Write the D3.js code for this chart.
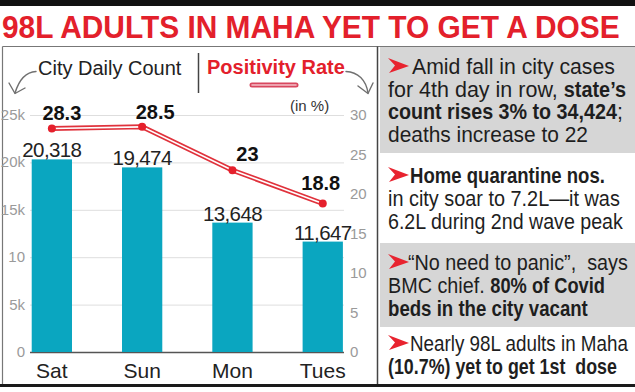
<!DOCTYPE html>
<html><head><meta charset="utf-8">
<script src="https://cdn.jsdelivr.net/npm/d3@7"></script>
<style>
body{margin:0;background:#fff}
svg{display:block}
text{font-family:"Liberation Sans",Arial,Helvetica,sans-serif}
</style>
</head><body>
<svg id="c" width="635" height="392"></svg>
<script>
// ---------- data ----------
const days = ["Sat", "Sun", "Mon", "Tues"];
const dailyCount = [20318, 19474, 13648, 11647];
const positivity = [28.3, 28.5, 23, 18.8];
const leftTicks = [0, 5000, 10000, 15000, 20000, 25000];
const leftTickLabels = ["0", "5k", "10", "15k", "20k", "25k"];
const rightTicks = [0, 5, 10, 15, 20, 25, 30];
const title = "98L ADULTS IN MAHA YET TO GET A DOSE";
const legendCount = "City Daily Count";
const legendRate = "Positivity Rate";
const unitLabel = "(in %)";
// notes: blocks of lines, each line = segments [text, bold]
const notes = [
  [[["Amid fall in city cases", 0]],
   [["for 4th day in row, ", 0], ["state\u2019s", 1]],
   [["count rises 3% to 34,424", 1], [";", 0]],
   [["deaths increase to 22", 0]]],
  [[["Home quarantine nos.", 1]],
   [["in city soar to 7.2L\u2014it was", 0]],
   [["6.2L during 2nd wave peak", 0]]],
  [[["\u201CNo need to panic\u201D,  says", 0]],
   [["BMC chief. ", 0], ["80% of Covid", 1]],
   [["beds in the city vacant", 1]]],
  [[["Nearly 98L adults in Maha", 0]],
   [["(10.7%) yet to get 1st  dose", 1]]]
];

// ---------- layout ----------
const svg = d3.select("#c");
const RED = "#e3202b", TEAL = "#0aa6c0", DARK = "#222";
const y0 = 352, yTop = 115;
const yL = d3.scaleLinear().domain([0, 25000]).range([y0, yTop]);
const yR = d3.scaleLinear().domain([0, 30]).range([y0, yTop]);
const x = d3.scaleBand().domain(days).range([6.7, 367.9]).paddingInner(0.554).paddingOuter(0.277);
const cx = d => x(d) + x.bandwidth() / 2;
const posLabelOffset = [[10, -8], [13, -8], [15, -9], [-2, -13]];
const blockBg = [
  {y: 47, h: 106, fill: "#d6d6d6"},
  {y: 155, h: 87, fill: "#fff"},
  {y: 243, h: 84, fill: "#d6d6d6"},
  {y: 328, h: 56, fill: "#fff"}
];
const blockLines = [[74, 96.5, 119, 141.5], [183, 206, 229], [270, 293, 316], [351, 374]];
const lineEnds = [[615, 626, 623, 588], [605, 620, 623], [628, 605, 588], [628, 617]];
const firstX = [412, 410, 408, 410];

// top bar + title
svg.append("rect").attr("x", 0).attr("y", 0).attr("width", 635).attr("height", 6).attr("fill", "#111");
const titleEl = svg.append("text").attr("font-size", 29.5).attr("font-weight", "bold")
  .attr("fill", RED).text(title);
const tw = titleEl.node().getComputedTextLength();
titleEl.attr("transform", `translate(2,38) scale(${618 / tw},1.09)`);

// right panel backgrounds
svg.selectAll("rect.bg").data(blockBg).enter().append("rect").attr("class", "bg")
  .attr("x", 380).attr("y", d => d.y).attr("width", 255).attr("height", d => d.h).attr("fill", d => d.fill);

// frame
svg.append("line").attr("x1", 2.5).attr("x2", 635).attr("y1", 46.5).attr("y2", 46.5).attr("stroke", "#777").attr("stroke-width", 1.2);
svg.append("line").attr("x1", 2.5).attr("x2", 2.5).attr("y1", 46.5).attr("y2", 385).attr("stroke", "#777").attr("stroke-width", 1.2);
svg.append("line").attr("x1", 377.5).attr("x2", 377.5).attr("y1", 46.5).attr("y2", 385).attr("stroke", "#444").attr("stroke-width", 1.5);
svg.append("rect").attr("x", 0).attr("y", 384).attr("width", 635).attr("height", 3).attr("fill", "#1a1a1a");

// grid
svg.selectAll("line.grid").data(leftTicks).enter().append("line").attr("class", "grid")
  .attr("x1", 30).attr("x2", 344).attr("y1", d => yL(d) + 0.5).attr("y2", d => yL(d) + 0.5)
  .attr("stroke", d => d === 0 ? "#555" : "#dedede").attr("stroke-width", d => d === 0 ? 1.5 : 1);

// left axis labels
svg.selectAll("text.lt").data(leftTicks).enter().append("text").attr("class", "lt")
  .attr("x", 25).attr("y", d => yL(d) + 5).attr("text-anchor", "end")
  .attr("font-size", 15).attr("fill", "#9a9a9a").text((d, i) => leftTickLabels[i]);
// right axis labels
svg.selectAll("text.rt").data(rightTicks).enter().append("text").attr("class", "rt")
  .attr("x", 350).attr("y", d => yR(d) + 5).attr("font-size", 15).attr("fill", "#9a9a9a").text(d => d);

// bars
svg.selectAll("rect.bar").data(dailyCount).enter().append("rect").attr("class", "bar")
  .attr("x", (d, i) => x(days[i])).attr("width", x.bandwidth())
  .attr("y", d => yL(d)).attr("height", d => y0 - yL(d)).attr("fill", TEAL);
svg.selectAll("text.bv").data(dailyCount).enter().append("text").attr("class", "bv")
  .attr("x", (d, i) => cx(days[i])).attr("y", d => yL(d) - 2).attr("text-anchor", "middle")
  .attr("font-size", 20.5).attr("letter-spacing", -0.6).attr("fill", DARK).text(d3.format(","));

// day labels
svg.selectAll("text.day").data(days).enter().append("text").attr("class", "day")
  .attr("x", d => cx(d)).attr("y", 378).attr("text-anchor", "middle")
  .attr("font-size", 21).attr("fill", DARK).text(d => d);

// positivity line
const line = d3.line().x((d, i) => cx(days[i])).y(d => yR(d));
svg.append("path").datum(positivity).attr("d", line).attr("fill", "none").attr("stroke", "#e0323c").attr("stroke-width", 5);
svg.append("path").datum(positivity).attr("d", line).attr("fill", "none").attr("stroke", "#fff").attr("stroke-width", 1.6);
svg.selectAll("circle.pt").data(positivity).enter().append("circle").attr("class", "pt")
  .attr("cx", (d, i) => cx(days[i])).attr("cy", d => yR(d)).attr("r", 4).attr("fill", "#e5202c");
svg.selectAll("text.pv").data(positivity).enter().append("text").attr("class", "pv")
  .attr("x", (d, i) => cx(days[i]) + posLabelOffset[i][0]).attr("y", (d, i) => yR(d) + posLabelOffset[i][1])
  .attr("text-anchor", "middle").attr("font-size", 20).attr("font-weight", "bold").attr("fill", "#111").text(d => d);

// legend
svg.append("text").attr("x", 38).attr("y", 75).attr("font-size", 20).attr("fill", DARK).text(legendCount);
svg.append("line").attr("x1", 198.5).attr("x2", 198.5).attr("y1", 53).attr("y2", 93).attr("stroke", "#444").attr("stroke-width", 1.5);
svg.append("text").attr("x", 207).attr("y", 74).attr("font-size", 20).attr("font-weight", "bold").attr("fill", RED).text(legendRate);
svg.append("line").attr("x1", 252).attr("x2", 296).attr("y1", 85).attr("y2", 85).attr("stroke", "#d8475e").attr("stroke-width", 5).attr("stroke-linecap", "round");
svg.append("line").attr("x1", 252).attr("x2", 296).attr("y1", 85).attr("y2", 85).attr("stroke", "#f3c0c8").attr("stroke-width", 1.6).attr("stroke-linecap", "round");
svg.append("text").attr("x", 290).attr("y", 111).attr("font-size", 15).attr("fill", "#333").text(unitLabel);
// curved arrows
const arrowStyle = s => s.attr("fill", "none").attr("stroke", "#707070").attr("stroke-width", 1.4).attr("stroke-linecap", "round").attr("stroke-linejoin", "round");
svg.append("path").attr("d", "M36,71.5 C26,72 19,80 15,93").call(arrowStyle);
svg.append("path").attr("d", "M9,83 L15,93.5 L25,88").call(arrowStyle);
svg.append("path").attr("d", "M346,71.5 C358,72 366,80 368,93").call(arrowStyle);
svg.append("path").attr("d", "M358,86 L368,93.5 L373,83").call(arrowStyle);

// notes
const SX_REG = 0.92, SX_BOLD = 0.85;
notes.forEach((block, bi) => {
  block.forEach((segs, li) => {
    const by = blockLines[bi][li];
    const startX = li === 0 ? firstX[bi] : 388;
    if (li === 0) {
      svg.append("path").attr("fill", "#e8232f")
        .attr("d", `M388,${by - 16} L409,${by - 8} L389,${by - 1} L395,${by - 8.5} Z`);
    }
    const els = segs.map(([t, b]) => {
      const el = svg.append("text").attr("font-size", 22).attr("font-weight", b ? "bold" : "normal")
        .attr("fill", "#1e1e1e").style("white-space", "pre").text(t);
      return {el, sx: b ? SX_BOLD : SX_REG, w: el.node().getComputedTextLength()};
    });
    const total = d3.sum(els, e => e.w * e.sx);
    const k = (lineEnds[bi][li] - startX) / total;
    let px = startX;
    els.forEach(e => {
      const s = e.sx * k;
      e.el.attr("transform", `translate(${px},${by}) scale(${s},1)`);
      px += e.w * s;
    });
  });
});
</script>
</body></html>
